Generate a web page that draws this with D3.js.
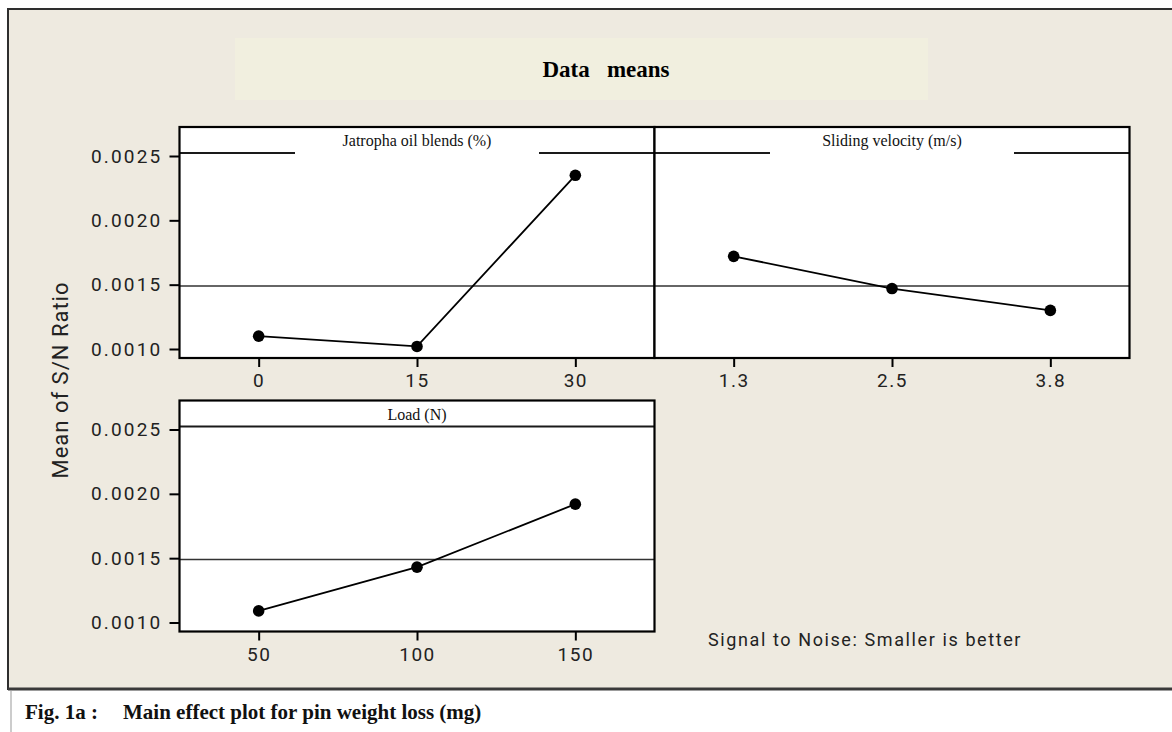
<!DOCTYPE html>
<html>
<head>
<meta charset="utf-8">
<script src="https://cdn.jsdelivr.net/npm/d3@7"></script>
<style>
  html, body { margin: 0; padding: 0; background: #ffffff; }
  svg { display: block; }
</style>
</head>
<body>
<svg id="chart" width="1172" height="732"></svg>
<script>
// Main effects of the three factors on the mean S/N ratio (smaller is better)
const factorNames = ["Jatropha oil blends (%)", "Sliding velocity (m/s)", "Load (N)"];

const jatrophaLevels = ["0", "15", "30"];
const jatrophaMeans = [0.00110, 0.00102, 0.00235];

const velocityLevels = ["1.3", "2.5", "3.8"];
const velocityMeans = [0.00172, 0.00147, 0.00130];

const loadLevels = ["50", "100", "150"];
const loadMeans = [0.00109, 0.00143, 0.00192];

const grandMean = 0.00149;
const yTickValues = [0.0010, 0.0015, 0.0020, 0.0025];

const chartTitle = "Data   means";
const yAxisTitle = "Mean of S/N Ratio";
const noteText = "Signal to Noise: Smaller is better";
const captionLabel = "Fig. 1a :";
const captionText = "Main effect plot for pin weight loss (mg)";

const svg = d3.select("#chart");

// ---- background frame ----
svg.append("rect")
  .attr("x", 8).attr("y", 9).attr("width", 1180).attr("height", 680)
  .attr("fill", "#eeeae0").attr("stroke", "#2e2e2e").attr("stroke-width", 2);
svg.append("line")
  .attr("x1", 8).attr("x2", 1172).attr("y1", 689).attr("y2", 689)
  .attr("stroke", "#3a3a3a").attr("stroke-width", 3);

// title banner
svg.append("rect")
  .attr("x", 235).attr("y", 38).attr("width", 693).attr("height", 62)
  .attr("fill", "#f1efdf");
svg.append("text")
  .attr("x", 606).attr("y", 77)
  .attr("text-anchor", "middle")
  .attr("font-family", "'Liberation Serif', 'Times New Roman', serif")
  .attr("font-weight", "bold")
  .attr("font-size", 23)
  .attr("fill", "#000")
  .style("white-space", "pre")
  .text(chartTitle);

// ---- panels ----
const panelW = 475;
const stripH = 26;
const panelH = 231;

const panels = [
  { name: factorNames[0], levels: jatrophaLevels, means: jatrophaMeans, x0: 179.5, y0: 127, yAxis: true, gap: true },
  { name: factorNames[1], levels: velocityLevels, means: velocityMeans, x0: 654.5, y0: 127, yAxis: false, gap: true },
  { name: factorNames[2], levels: loadLevels, means: loadMeans, x0: 179.5, y0: 400.5, yAxis: true, gap: false }
];

const tickFont = "Roboto, 'Liberation Sans', Arial, sans-serif";

panels.forEach(p => {
  const g = svg.append("g").attr("transform", `translate(${p.x0},${p.y0})`);

  const x = d3.scalePoint().domain(p.levels).range([0, panelW]).padding(0.5);
  const y = d3.scaleLinear().domain([0.0010, 0.0025]).range([222, 29]);

  // panel body
  g.append("rect")
    .attr("x", 0).attr("y", 0).attr("width", panelW).attr("height", panelH)
    .attr("fill", "#ffffff");

  // reference line at the grand mean
  g.append("line")
    .attr("x1", 0).attr("x2", panelW)
    .attr("y1", y(grandMean)).attr("y2", y(grandMean))
    .attr("stroke", "#333").attr("stroke-width", 1.6);

  // strip separator, broken around the label for the top row
  const mid = panelW / 2;
  const half = 122;
  const segs = p.gap ? [[0, mid - half], [mid + half, panelW]] : [[0, panelW]];
  segs.forEach(s => {
    g.append("line")
      .attr("x1", s[0]).attr("x2", s[1])
      .attr("y1", stripH).attr("y2", stripH)
      .attr("stroke", "#1a1a1a").attr("stroke-width", 2);
  });

  g.append("text")
    .attr("x", mid).attr("y", 19)
    .attr("text-anchor", "middle")
    .attr("font-family", "'Liberation Serif', 'Times New Roman', serif")
    .attr("font-size", 16)
    .attr("fill", "#111")
    .text(p.name);

  // effect line and level means
  const pts = p.levels.map((lv, i) => [x(lv), y(p.means[i])]);
  g.append("path")
    .attr("d", d3.line()(pts))
    .attr("fill", "none").attr("stroke", "#000").attr("stroke-width", 1.8);
  g.selectAll("circle.pt").data(pts).join("circle")
    .attr("class", "pt")
    .attr("cx", d => d[0]).attr("cy", d => d[1]).attr("r", 5.8)
    .attr("fill", "#000");

  // panel border
  g.append("rect")
    .attr("x", 0).attr("y", 0).attr("width", panelW).attr("height", panelH)
    .attr("fill", "none").attr("stroke", "#000").attr("stroke-width", 2.2);

  // x axis
  const xa = g.append("g").attr("transform", `translate(0,${panelH})`)
    .call(d3.axisBottom(x).tickSize(9).tickPadding(7));
  xa.select(".domain").remove();
  xa.selectAll(".tick line").attr("stroke", "#000").attr("stroke-width", 2);
  xa.selectAll(".tick text")
    .attr("font-family", tickFont).attr("font-size", 19)
    .attr("letter-spacing", 1.5).attr("fill", "#222");

  // y axis
  if (p.yAxis) {
    const ya = g.append("g")
      .call(d3.axisLeft(y).tickValues(yTickValues).tickFormat(d3.format(".4f")).tickSize(10).tickPadding(7));
    ya.select(".domain").remove();
    ya.selectAll(".tick line").attr("stroke", "#000").attr("stroke-width", 2);
    ya.selectAll(".tick text")
      .attr("font-family", tickFont).attr("font-size", 19)
      .attr("letter-spacing", 2.2).attr("fill", "#222");
  }
});

// y-axis title
svg.append("text")
  .attr("transform", "translate(68,380) rotate(-90)")
  .attr("text-anchor", "middle")
  .attr("font-family", tickFont)
  .attr("font-size", 22)
  .attr("letter-spacing", 1)
  .attr("fill", "#222")
  .text(yAxisTitle);

// note
svg.append("text")
  .attr("x", 708).attr("y", 646)
  .attr("font-family", tickFont)
  .attr("font-size", 18)
  .attr("letter-spacing", 1.6)
  .attr("fill", "#222")
  .text(noteText);

// ---- caption ----
svg.append("line")
  .attr("x1", 11).attr("x2", 11).attr("y1", 691).attr("y2", 732)
  .attr("stroke", "#999").attr("stroke-width", 1);
const cap = svg.append("text")
  .attr("y", 719)
  .attr("font-family", "'Liberation Serif', 'Times New Roman', serif")
  .attr("font-weight", "bold")
  .attr("font-size", 21)
  .attr("fill", "#111");
cap.append("tspan").attr("x", 25).text(captionLabel);
cap.append("tspan").attr("x", 123).text(captionText);
</script>
</body>
</html>
